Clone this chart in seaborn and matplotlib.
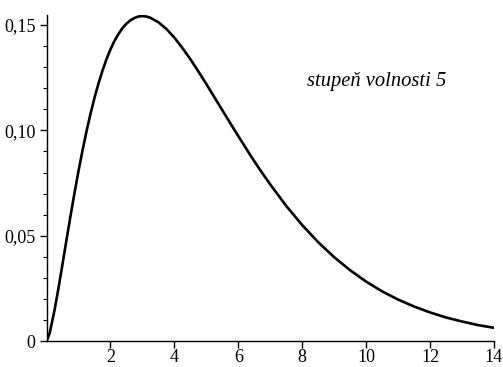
import numpy as np
import pandas as pd
import seaborn as sns
import matplotlib
matplotlib.use("Agg")
import matplotlib.pyplot as plt
from matplotlib.ticker import MultipleLocator

# values (chi-square density, 5 degrees of freedom)
x_vals = [0, 0.1, 0.25, 0.375, 0.5, 0.625, 0.75, 0.875, 1, 1.125, 1.25, 1.375,
          1.5, 1.625, 1.75, 1.875, 2, 2.125, 2.25, 2.375, 2.5, 2.625, 2.75,
          2.875, 3, 3.125, 3.25, 3.5, 3.75, 4, 4.25, 4.5, 4.75, 5, 5.25, 5.5,
          5.75, 6, 6.25, 6.5, 6.75, 7, 7.5, 8, 8.5, 9, 9.5, 10, 10.5, 11,
          11.5, 12, 12.5, 13, 13.5, 14]
density = [0, 0.0040, 0.0147, 0.0253, 0.0366, 0.0481, 0.0594, 0.0703, 0.0807,
           0.0904, 0.0995, 0.1078, 0.1154, 0.1222, 0.1283, 0.1337, 0.1384,
           0.1424, 0.1457, 0.1485, 0.1506, 0.1522, 0.1533, 0.1540, 0.1542,
           0.1540, 0.1534, 0.1513, 0.1481, 0.1440, 0.1391, 0.1338, 0.1280,
           0.1220, 0.1158, 0.1096, 0.1034, 0.0973, 0.0913, 0.0854, 0.0798,
           0.0744, 0.0642, 0.0551, 0.0470, 0.0399, 0.0337, 0.0283, 0.0237,
           0.0198, 0.0165, 0.0137, 0.0113, 0.0094, 0.0077, 0.0064]
y_ticks = [0, 0.05, 0.10, 0.15]
y_labels = ["0", "0,05", "0,10", "0,15"]
x_ticks = [2, 4, 6, 8, 10, 12, 14]
label = "stupeň volnosti 5"

df = pd.DataFrame({"x": x_vals, "f": density})

sns.set_theme(style="ticks")
plt.rcParams["font.family"] = ["Liberation Serif", "DejaVu Serif"]

fig = plt.figure(figsize=(5.03, 3.67), dpi=100)
ax = fig.add_axes([0.0925, 0.07, 0.8895, 0.889])
sns.lineplot(data=df, x="x", y="f", color="black", linewidth=1.9, ax=ax)

ax.set_xlim(0, 14)
ax.set_ylim(0, 0.1547)
ax.set_xticks(x_ticks)
ax.set_yticks(y_ticks)
ax.set_yticklabels(y_labels)
ax.yaxis.set_minor_locator(MultipleLocator(0.01))
ax.tick_params(axis="both", which="major", labelsize=13, length=5, width=1,
               direction="out", colors="black")
ax.tick_params(axis="x", which="major", pad=0.5)
ax.tick_params(axis="y", which="major", pad=3)
ax.tick_params(axis="y", which="minor", length=3, width=0.8, colors="black")
ax.set_xlabel("")
ax.set_ylabel("")
for s in ["left", "bottom"]:
    ax.spines[s].set_linewidth(1)
    ax.spines[s].set_color("black")
sns.despine(ax=ax)

ax.text(8.15, 0.123, label, fontsize=14.8, style="italic", color="black",
        va="center", ha="left")

fig.savefig("out.png", dpi=100)
